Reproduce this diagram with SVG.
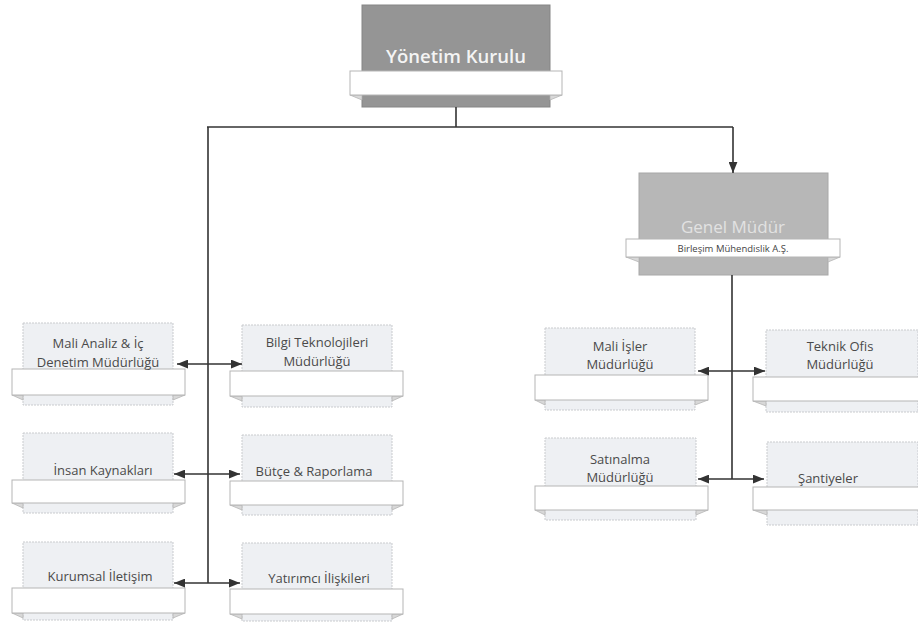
<svg xmlns="http://www.w3.org/2000/svg" width="918" height="623" viewBox="0 0 918 623">
<style>
.bg{fill:#ffffff}
.top{fill:#959595;stroke:#858585;stroke-width:1}
.gm{fill:#b7b7b7;stroke:#a8a8a8;stroke-width:1}
.box{fill:#eef0f3;stroke:#c9cbce;stroke-width:1;stroke-dasharray:2 1}
.bar{fill:#ffffff;stroke:#b5b5b5;stroke-width:1}
.fold{fill:#d8d8d8;stroke:#b5b5b5;stroke-width:0.8}
.t{font-family:"Open Sans","Noto Sans","Liberation Sans",sans-serif;font-size:13px;fill:#4a4a4a;text-anchor:middle}
.th{font-family:"Open Sans","Noto Sans","Liberation Sans",sans-serif;font-size:18.5px;font-weight:600;fill:#f4f4f4;text-anchor:middle}
.tg{font-family:"Open Sans","Noto Sans","Liberation Sans",sans-serif;font-size:17px;fill:#e2e2e2;text-anchor:middle}
.ts{font-family:"Open Sans","Noto Sans","Liberation Sans",sans-serif;font-size:9.5px;fill:#444;text-anchor:middle}
.c{fill:none;stroke:#333333;stroke-width:1.6}
</style>
<defs>
<marker id="ah" viewBox="0 0 10 8" refX="10" refY="4" markerWidth="11" markerHeight="9" markerUnits="userSpaceOnUse" orient="auto-start-reverse">
<path d="M0,0 L10,4 L0,8 z" fill="#333333"/>
</marker>
</defs>
<rect class="bg" x="0" y="0" width="918" height="623"/>

<g id="yonetim-kurulu">
<rect class="top" x="362" y="5" width="188" height="102"/>
<path class="fold" d="M350,95 L362,95 L362,100 Z"/>
<path class="fold" d="M562,95 L550,95 L550,100 Z"/>
<rect class="bar" x="350" y="71" width="212" height="24"/>
<text class="th" x="456" y="63">Yönetim Kurulu</text>
</g>

<g id="genel-mudur">
<rect class="gm" x="639" y="173" width="189" height="102"/>
<text class="tg" x="733" y="233">Genel Müdür</text>
<path class="fold" d="M626,257 L639,257 L639,262 Z"/>
<path class="fold" d="M840,257 L828,257 L828,262 Z"/>
<rect class="bar" x="626" y="239" width="214" height="18"/>
<text class="ts" x="733" y="252">Birleşim Mühendislik A.Ş.</text>
</g>

<g id="mali-analiz">
<rect class="box" x="23" y="323" width="150" height="82"/>
<path class="fold" d="M12,395 L23,395 L23,400 Z"/>
<path class="fold" d="M185,395 L173,395 L173,400 Z"/>
<rect class="bar" x="12" y="369" width="173" height="26"/>
<text class="t" x="98" y="348">Mali Analiz &amp; İç</text>
<text class="t" x="98" y="367">Denetim Müdürlüğü</text>
</g>

<g id="bilgi-teknolojileri">
<rect class="box" x="242" y="325" width="150" height="82"/>
<path class="fold" d="M230,396 L242,396 L242,401 Z"/>
<path class="fold" d="M403,396 L392,396 L392,401 Z"/>
<rect class="bar" x="230" y="371" width="173" height="25"/>
<text class="t" x="317" y="347">Bilgi Teknolojileri</text>
<text class="t" x="317" y="366">Müdürlüğü</text>
</g>

<g id="insan-kaynaklari">
<rect class="box" x="23" y="433" width="150" height="80"/>
<path class="fold" d="M12,503 L23,503 L23,508 Z"/>
<path class="fold" d="M185,503 L173,503 L173,508 Z"/>
<rect class="bar" x="12" y="480" width="173" height="23"/>
<text class="t" x="103" y="475">İnsan Kaynakları</text>
</g>

<g id="butce-raporlama">
<rect class="box" x="242" y="435" width="150" height="80"/>
<path class="fold" d="M230,505 L242,505 L242,510 Z"/>
<path class="fold" d="M403,505 L392,505 L392,510 Z"/>
<rect class="bar" x="230" y="481" width="173" height="24"/>
<text class="t" x="314" y="476">Bütçe &amp; Raporlama</text>
</g>

<g id="kurumsal-iletisim">
<rect class="box" x="23" y="542" width="150" height="78"/>
<path class="fold" d="M12,613 L23,613 L23,618 Z"/>
<path class="fold" d="M185,613 L173,613 L173,618 Z"/>
<rect class="bar" x="12" y="588" width="173" height="25"/>
<text class="t" x="100" y="581">Kurumsal İletişim</text>
</g>

<g id="yatirimci-iliskileri">
<rect class="box" x="242" y="543" width="150" height="78"/>
<path class="fold" d="M230,614 L242,614 L242,619 Z"/>
<path class="fold" d="M403,614 L392,614 L392,619 Z"/>
<rect class="bar" x="230" y="589" width="173" height="25"/>
<text class="t" x="319" y="583">Yatırımcı İlişkileri</text>
</g>

<g id="mali-isler">
<rect class="box" x="545" y="328" width="150" height="82"/>
<path class="fold" d="M535,400 L545,400 L545,405 Z"/>
<path class="fold" d="M708,400 L695,400 L695,405 Z"/>
<rect class="bar" x="535" y="375" width="173" height="25"/>
<text class="t" x="620" y="351">Mali İşler</text>
<text class="t" x="620" y="369">Müdürlüğü</text>
</g>

<g id="teknik-ofis">
<rect class="box" x="766" y="330" width="152" height="82"/>
<path class="fold" d="M753,401 L766,401 L766,406 Z"/>
<rect class="bar" x="753" y="377" width="172" height="24"/>
<text class="t" x="840" y="351">Teknik Ofis</text>
<text class="t" x="840" y="369">Müdürlüğü</text>
</g>

<g id="satinalma">
<rect class="box" x="545" y="438" width="151" height="82"/>
<path class="fold" d="M535,510 L545,510 L545,515 Z"/>
<path class="fold" d="M708,510 L696,510 L696,515 Z"/>
<rect class="bar" x="535" y="486" width="173" height="24"/>
<text class="t" x="620" y="464">Satınalma</text>
<text class="t" x="620" y="482">Müdürlüğü</text>
</g>

<g id="santiyeler">
<rect class="box" x="767" y="442" width="151" height="83"/>
<path class="fold" d="M753,510 L767,510 L767,515 Z"/>
<rect class="bar" x="753" y="487" width="172" height="23"/>
<text class="t" x="828" y="483">Şantiyeler</text>
</g>

<g id="connectors">
<path class="c" d="M456,107 V127"/>
<path class="c" d="M207,127 H733"/>
<path class="c" d="M208,127 V583"/>
<path class="c" d="M733,127 V173" marker-end="url(#ah)"/>
<path class="c" d="M177,364 H242" marker-start="url(#ah)" marker-end="url(#ah)"/>
<path class="c" d="M174,474 H240" marker-start="url(#ah)" marker-end="url(#ah)"/>
<path class="c" d="M174,583 H240" marker-start="url(#ah)" marker-end="url(#ah)"/>
<path class="c" d="M732,275 V479"/>
<path class="c" d="M698,371 H765" marker-start="url(#ah)" marker-end="url(#ah)"/>
<path class="c" d="M698,479 H764" marker-start="url(#ah)" marker-end="url(#ah)"/>
</g>
</svg>
